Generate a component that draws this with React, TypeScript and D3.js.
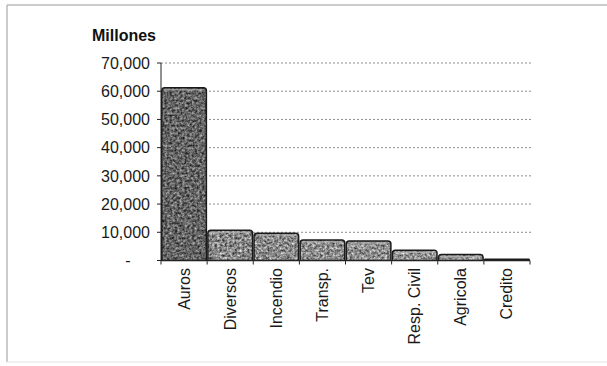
import React from "react";
import * as d3 from "d3";

// Primas por ramo, en millones
const categories = ["Auros", "Diversos", "Incendio", "Transp.", "Tev", "Resp. Civil", "Agricola", "Credito"];
const values = [61200, 10700, 9700, 7300, 6900, 3600, 2100, 400];
const yTicks = [0, 10000, 20000, 30000, 40000, 50000, 60000, 70000];
const yTickLabels = ["-", "10,000", "20,000", "30,000", "40,000", "50,000", "60,000", "70,000"];

const W = 607;
const H = 366;
const FONT = "'Liberation Sans', Arial, sans-serif";

export default function App() {
  const x = d3.scaleBand<string>().domain(categories).range([161, 530]).padding(0);
  const y = d3.scaleLinear().domain([0, 70000]).range([260.5, 63]);
  const shade = d3.scaleLinear<string>().domain([0, 12000, 62000]).range(["#999999", "#858585", "#636363"]).clamp(true);

  const barPath = (x0: number, x1: number, top: number, bottom: number) => {
    const r = Math.min(3, (bottom - top) / 2);
    const p = d3.path();
    p.moveTo(x0, bottom);
    p.lineTo(x0, top + r);
    p.quadraticCurveTo(x0, top, x0 + r, top);
    p.lineTo(x1 - r, top);
    p.quadraticCurveTo(x1, top, x1, top + r);
    p.lineTo(x1, bottom);
    p.closePath();
    return p.toString();
  };

  const axisY = y(0);
  const gridRight = 533;

  return (
    <div style={{ position: "fixed", left: 0, top: 0 }}>
      <svg width={W} height={H} style={{ display: "block", background: "#fff" }}>
        <defs>
          <filter id="grain" x="0" y="0" width="100%" height="100%" colorInterpolationFilters="sRGB">
            <feTurbulence type="fractalNoise" baseFrequency="0.4" numOctaves={3} seed={11} result="noise" />
            <feColorMatrix
              in="noise"
              type="matrix"
              values="1.1 0 0 0 -0.05  1.1 0 0 0 -0.05  1.1 0 0 0 -0.05  0 0 0 0 1"
              result="gray"
            />
            <feBlend in="gray" in2="SourceGraphic" mode="overlay" result="mixed" />
            <feComposite in="mixed" in2="SourceGraphic" operator="in" />
          </filter>
        </defs>

        {/* frame */}
        <line x1={7} x2={W} y1={5} y2={5} stroke="#9a9a9a" strokeWidth={1.2} />
        <line x1={7} x2={7} y1={5} y2={362} stroke="#a8a8a8" strokeWidth={1.2} />
        <line x1={7} x2={W} y1={362} y2={362} stroke="#e2e2e2" strokeWidth={1} />

        {/* title */}
        <text x={92} y={41} fontFamily={FONT} fontSize={16} fontWeight="bold" fill="#111">
          Millones
        </text>

        {/* gridlines */}
        {yTicks.filter((t) => t > 0).map((t) => (
          <line
            key={`g${t}`}
            x1={161}
            x2={gridRight}
            y1={y(t)}
            y2={y(t)}
            stroke="#8c8c8c"
            strokeWidth={1}
            strokeDasharray="2,2"
          />
        ))}

        {/* bars */}
        {categories.map((c, i) => {
          const x0 = x(c)!;
          const x1 = x0 + x.bandwidth();
          const top = y(values[i]);
          return (
            <g key={c}>
              <path d={barPath(x0 + 0.75, x1 - 0.75, top, axisY)} fill={shade(values[i])} filter="url(#grain)" />
              <path
                d={barPath(x0 + 0.75, x1 - 0.75, top, axisY)}
                fill="none"
                stroke="#1a1a1a"
                strokeWidth={1.5}
                strokeLinejoin="round"
              />
              {axisY - top > 5 && (
                <line x1={x0 + 3} x2={x1 - 3} y1={top + 2} y2={top + 2} stroke="#b0b0b0" strokeWidth={1} />
              )}
            </g>
          );
        })}

        {/* y axis */}
        <line x1={161} x2={161} y1={y(70000)} y2={axisY} stroke="#222" strokeWidth={1} />
        {yTicks.map((t, i) => (
          <g key={`y${t}`}>
            <line x1={157} x2={161} y1={y(t)} y2={y(t)} stroke="#222" strokeWidth={1} />
            <text
              x={t === 0 ? 128 : 150}
              y={y(t)}
              dy="0.36em"
              textAnchor={t === 0 ? "middle" : "end"}
              fontFamily={FONT}
              fontSize={16}
              fill="#1a1a1a"
            >
              {yTickLabels[i]}
            </text>
          </g>
        ))}

        {/* x axis */}
        <line x1={161} x2={530} y1={axisY} y2={axisY} stroke="#222" strokeWidth={1} />
        {categories.map((c) => (
          <line key={`t${c}`} x1={x(c)!} x2={x(c)!} y1={axisY} y2={axisY + 4} stroke="#222" strokeWidth={1} />
        ))}
        <line x1={530} x2={530} y1={axisY} y2={axisY + 4} stroke="#222" strokeWidth={1} />
        {categories.map((c) => {
          const cx = x(c)! + x.bandwidth() / 2;
          return (
            <text
              key={`l${c}`}
              transform={`translate(${cx + 5.5},268) rotate(-90)`}
              textAnchor="end"
              fontFamily={FONT}
              fontSize={16}
              fill="#1a1a1a"
            >
              {c}
            </text>
          );
        })}
      </svg>
    </div>
  );
}
